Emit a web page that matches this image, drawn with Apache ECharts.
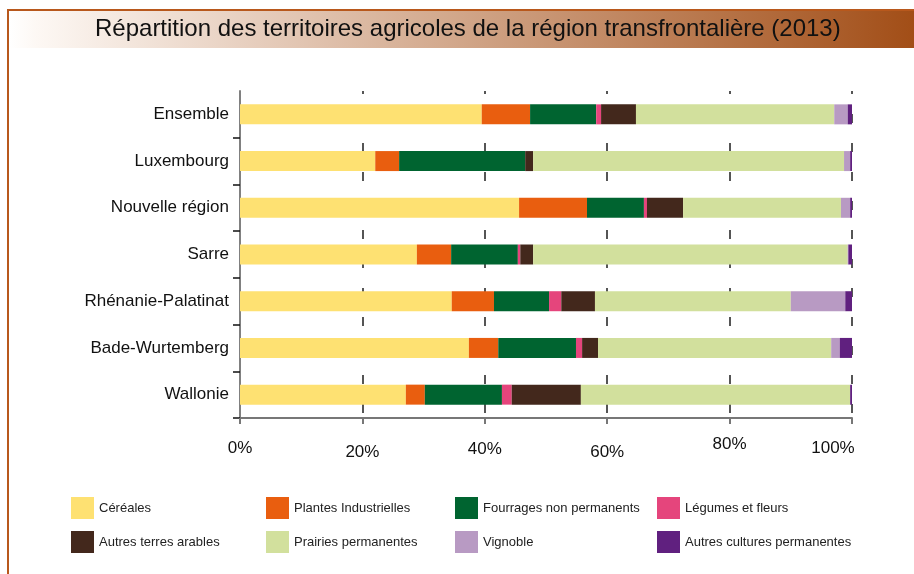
<!DOCTYPE html>
<html>
<head>
<meta charset="utf-8">
<script src="https://cdn.jsdelivr.net/npm/echarts@6/dist/echarts.min.js"></script>
<style>
  html, body { margin: 0; padding: 0; background: #fff; }
  #chart-panel { width: 914px; height: 574px; }
</style>
</head>
<body>
<div id="chart-panel"></div>
<script>
(function () {
  var myChart = echarts.init(document.querySelector('#chart-panel'));

  // régions (de haut en bas)
  var categories = ['Ensemble', 'Luxembourg', 'Nouvelle région', 'Sarre',
    'Rhénanie-Palatinat', 'Bade-Wurtemberg', 'Wallonie'];

  var seriesNames = ['Céréales', 'Plantes Industrielles', 'Fourrages non permanents',
    'Légumes et fleurs', 'Autres terres arables', 'Prairies permanentes',
    'Vignoble', 'Autres cultures permanentes'];

  // parts en %
  var cereales   = [39.5, 22.1, 45.6, 28.9, 34.6, 37.4, 27.1];
  var plantesInd = [7.9, 3.9, 11.1, 5.6, 6.9, 4.8, 3.1];
  var fourrages  = [10.8, 20.6, 9.3, 10.9, 9.0, 12.7, 12.6];
  var legumes    = [0.8, 0.0, 0.5, 0.4, 2.0, 1.0, 1.6];
  var autresTA   = [5.7, 1.3, 5.9, 2.1, 5.5, 2.6, 11.3];
  var prairies   = [32.4, 50.8, 25.8, 51.4, 32.0, 38.1, 44.0];
  var vignoble   = [2.2, 1.0, 1.5, 0.1, 8.9, 1.4, 0.0];
  var autresCP   = [0.7, 0.3, 0.3, 0.6, 1.1, 2.0, 0.3];

  var seriesData = [cereales, plantesInd, fourrages, legumes, autresTA, prairies, vignoble, autresCP];
  var colors = ['#fee172', '#e95e0f', '#006430', '#e5457c', '#43281c', '#d2e09d', '#b89ac3', '#60207f'];

  var tickLabels = ['0%', '20%', '40%', '60%', '80%', '100%'];
  // petits décalages des étiquettes comme sur l'original
  var labelPad = [[4, 0, 0, 0], [8, 0, 0, 0], [5, 0, 0, 0], [8, 0, 0, 0], [0, 0, 0, 0], [4, 38, 0, 0]];
  var rich = {};
  labelPad.forEach(function (p, i) {
    rich['t' + i] = { padding: p, fontSize: 17, color: '#111', fontFamily: 'Liberation Sans, Arial, sans-serif' };
  });

  var series = seriesNames.map(function (name, i) {
    return {
      name: name,
      type: 'bar',
      stack: 'total',
      barWidth: 20,
      itemStyle: { color: colors[i] },
      emphasis: { disabled: true },
      data: seriesData[i]
    };
  });

  // légende : 4 colonnes de 2 éléments
  var colLeft = [71, 266, 455, 657];
  var legends = colLeft.map(function (x, c) {
    return {
      orient: 'vertical',
      left: x,
      top: 497,
      padding: 0,
      itemWidth: 23,
      itemHeight: 22,
      itemGap: 12,
      icon: 'rect',
      selectedMode: false,
      textStyle: { fontSize: 13, color: '#222', fontFamily: 'Liberation Sans, Arial, sans-serif' },
      data: [seriesNames[c], seriesNames[c + 4]]
    };
  });

  var option = {
    animation: false,
    backgroundColor: '#fff',
    textStyle: { fontFamily: 'Liberation Sans, Arial, sans-serif' },
    graphic: [
      {
        type: 'rect',
        shape: { x: 9, y: 11, width: 905, height: 37 },
        style: {
          fill: new echarts.graphic.LinearGradient(0, 0, 1, 0, [
            { offset: 0, color: '#ffffff' },
            { offset: 0.03, color: '#fdf8f4' },
            { offset: 1, color: '#a24e17' }
          ])
        },
        silent: true
      },
      {
        type: 'polyline',
        shape: { points: [[8, 574], [8, 10], [914, 10]] },
        style: { stroke: '#b8581c', lineWidth: 2, fill: null },
        silent: true
      },
      {
        type: 'text',
        left: 95,
        top: 17,
        style: {
          text: 'Répartition des territoires agricoles de la région transfrontalière (2013)',
          fontSize: 24,
          fill: '#111',
          fontFamily: 'Liberation Sans, Arial, sans-serif'
        },
        silent: true
      }
    ],
    legend: legends,
    grid: { left: 240, right: 62, top: 91, bottom: 156, containLabel: false },
    xAxis: {
      type: 'value',
      min: 0,
      max: 100,
      interval: 20,
      axisLine: { show: true, lineStyle: { color: '#777', width: 2 } },
      axisTick: { show: true, length: 6, lineStyle: { color: '#777', width: 2 } },
      splitLine: {
        show: true,
        lineStyle: { color: '#555', width: 2, type: [9, 20], dashOffset: 6 }
      },
      axisLabel: {
        margin: 18,
        formatter: function (v) {
          var i = Math.round(v / 20);
          return '{t' + i + '|' + tickLabels[i] + '}';
        },
        rich: rich
      }
    },
    yAxis: {
      type: 'category',
      inverse: true,
      data: categories,
      axisLine: { show: true, lineStyle: { color: '#808080', width: 2 } },
      axisTick: {
        show: true,
        length: 7,
        interval: function (index) { return index !== 0; },
        lineStyle: { color: '#111', width: 1.5 }
      },
      axisLabel: { margin: 11, fontSize: 17, color: '#111' }
    },
    series: series
  };

  myChart.setOption(option);
})();
</script>
</body>
</html>
